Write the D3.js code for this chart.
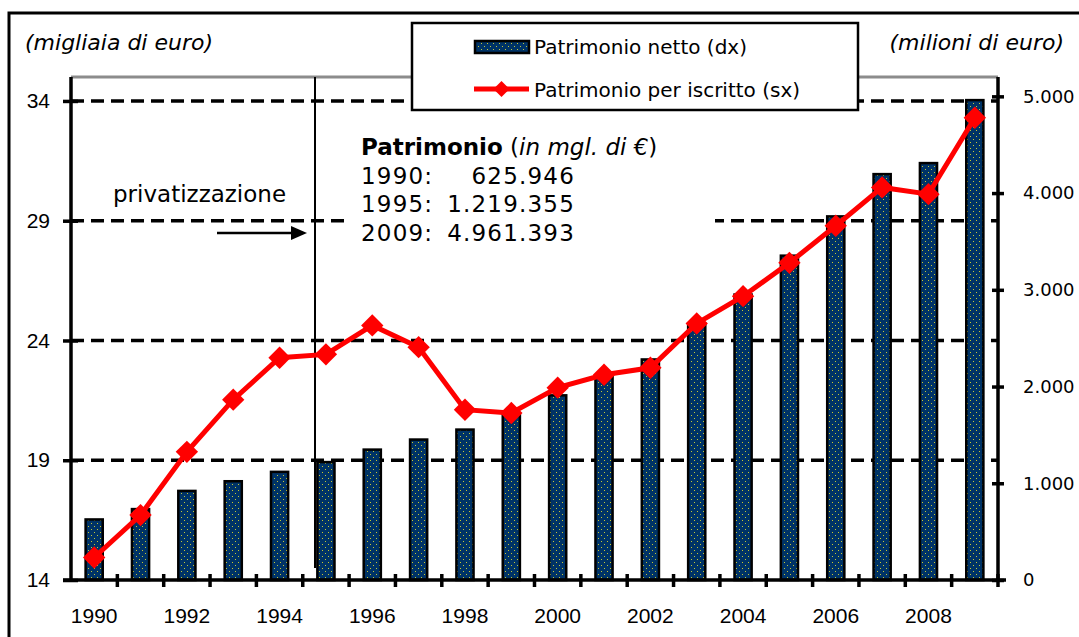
<!DOCTYPE html>
<meta charset="utf-8">
<style>
body {
    margin: 0;
    background: white;
}

.axis path,
.axis line {
    fill: none;
    stroke: #000;
    stroke-width: 3.5px;
}

.axis text {
    fill: #000;
}

.y.left text,
.x.axis text {
    font: 21px "Liberation Sans", Arial, sans-serif;
}

.y.right text {
    font: 18px "DejaVu Sans", Verdana, sans-serif;
}

.grid line {
    stroke: #000;
    stroke-width: 3.5px;
    stroke-dasharray: 13, 7;
}

.bar {
    fill: url(#dots);
    stroke: #000;
    stroke-width: 2.5px;
}

.note {
    font-family: "DejaVu Sans", Verdana, sans-serif;
    fill: #000;
}
</style>

<body>
    <script src="https://d3js.org/d3.v7.min.js"></script>
    <script>
    // chart data
    var years = [1990, 1991, 1992, 1993, 1994, 1995, 1996, 1997, 1998, 1999,
        2000, 2001, 2002, 2003, 2004, 2005, 2006, 2007, 2008, 2009];

    // net assets, millions of euro (right axis)
    var patrimonioNetto = [626, 733, 921, 1021, 1118, 1219, 1348, 1452, 1555, 1715,
        1909, 2097, 2280, 2652, 2951, 3353, 3759, 4196, 4310, 4961];

    // assets per member, thousands of euro (left axis)
    var perIscritto = [14.94, 16.71, 19.35, 21.53, 23.28, 23.42, 24.63, 23.72, 21.11, 20.97,
        22.03, 22.57, 22.86, 24.71, 25.85, 27.24, 28.79, 30.39, 30.11, 33.30];

    var leftTicks = [14, 19, 24, 29, 34];
    var rightTicks = [0, 1000, 2000, 3000, 4000, 5000];
    var xLabelYears = [1990, 1992, 1994, 1996, 1998, 2000, 2002, 2004, 2006, 2008];

    var noteLines = [
        ["1990:", "625.946"],
        ["1995:", "1.219.355"],
        ["2009:", "4.961.393"]
    ];

    // plot area edges
    var pLeft = 71, pRight = 998, pTop = 77, pBottom = 580;

    var it = d3.formatLocale({ decimal: ",", thousands: ".", grouping: [3], currency: ["€", ""] });

    var x = d3.scaleBand()
        .domain(years)
        .range([pLeft, pRight]);

    var yL = d3.scaleLinear()
        .domain([14, 35])
        .range([pBottom, pTop]);

    var yR = d3.scaleLinear()
        .domain([0, 5200])
        .range([pBottom, pTop]);

    var barW = x.bandwidth() * 0.37;

    var svg = d3.select("body")
        .append("svg")
        .attr("width", 1079)
        .attr("height", 637);

    // dotted navy fill for the bars
    var pat = svg.append("defs")
        .append("pattern")
        .attr("id", "dots")
        .attr("patternUnits", "userSpaceOnUse")
        .attr("width", 6)
        .attr("height", 6);
    pat.append("rect").attr("width", 6).attr("height", 6).attr("fill", "#003366");
    pat.append("rect").attr("x", 1).attr("y", 1).attr("width", 1).attr("height", 1).attr("fill", "#c8c832");
    pat.append("rect").attr("x", 4).attr("y", 4).attr("width", 1).attr("height", 1).attr("fill", "#c8c832");

    // outer frame (runs off the right and bottom edges)
    svg.append("path")
        .attr("d", "M9,700V13H1100")
        .attr("fill", "none")
        .attr("stroke", "#000")
        .attr("stroke-width", 3);

    // top edge of the plot area
    svg.append("line")
        .attr("x1", pLeft).attr("x2", pRight)
        .attr("y1", pTop).attr("y2", pTop)
        .attr("stroke", "#8c8c8c")
        .attr("stroke-width", 3);

    // dashed gridlines
    svg.append("g")
        .attr("class", "grid")
        .selectAll("line")
        .data(leftTicks.slice(1))
        .enter()
        .append("line")
        .attr("x1", pLeft)
        .attr("x2", pRight)
        .attr("y1", function(d) { return yL(d); })
        .attr("y2", function(d) { return yL(d); });

    // privatisation marker line
    svg.append("line")
        .attr("x1", 315).attr("x2", 315)
        .attr("y1", pTop).attr("y2", 568)
        .attr("stroke", "#000")
        .attr("stroke-width", 2);

    // bars
    svg.selectAll(".bar")
        .data(years)
        .enter()
        .append("rect")
        .attr("class", "bar")
        .attr("x", function(d) { return x(d) + (x.bandwidth() - barW) / 2; })
        .attr("width", barW)
        .attr("y", function(d, i) { return yR(patrimonioNetto[i]); })
        .attr("height", function(d, i) { return pBottom - yR(patrimonioNetto[i]); });

    // red line with diamond markers
    var line = d3.line()
        .x(function(d, i) { return x(years[i]) + x.bandwidth() / 2; })
        .y(function(d) { return yL(d); });

    svg.append("path")
        .datum(perIscritto)
        .attr("d", line)
        .attr("fill", "none")
        .attr("stroke", "#ff0000")
        .attr("stroke-width", 5);

    var diamond = d3.symbol().type(d3.symbolSquare).size(250);

    svg.selectAll(".mark")
        .data(perIscritto)
        .enter()
        .append("path")
        .attr("class", "mark")
        .attr("d", diamond)
        .attr("fill", "#ff0000")
        .attr("transform", function(d, i) {
            return "translate(" + (x(years[i]) + x.bandwidth() / 2) + "," + yL(d) + ") rotate(45)";
        });

    // left axis
    var gl = svg.append("g")
        .attr("class", "y axis left")
        .attr("transform", "translate(" + pLeft + ",0)")
        .call(d3.axisLeft(yL).tickValues(leftTicks).tickSizeInner(8).tickSizeOuter(0).tickPadding(13));
    gl.select(".domain").attr("d", "M0," + (pBottom + 2) + "V" + pTop);
    gl.selectAll(".tick line").attr("x1", 7);

    // right axis
    var gr = svg.append("g")
        .attr("class", "y axis right")
        .attr("transform", "translate(" + pRight + ",0)")
        .call(d3.axisRight(yR).tickValues(rightTicks).tickSizeInner(6).tickSizeOuter(0).tickPadding(19)
            .tickFormat(it.format(",")));
    gr.select(".domain").attr("d", "M0," + (pBottom + 2) + "V" + pTop);
    gr.selectAll(".tick line").attr("x1", -6);

    // bottom axis: labels under every other year, ticks between years
    var gx = svg.append("g")
        .attr("class", "x axis")
        .attr("transform", "translate(0," + pBottom + ")")
        .call(d3.axisBottom(x).tickValues(xLabelYears).tickSize(0).tickPadding(28));
    gx.select(".domain").attr("d", "M" + (pLeft - 8) + ",0H" + (pRight + 8));

    gx.selectAll(".sep")
        .data(years.slice(1).concat([null]))
        .enter()
        .append("line")
        .attr("class", "sep")
        .attr("x1", function(d) { return d === null ? pRight : x(d); })
        .attr("x2", function(d) { return d === null ? pRight : x(d); })
        .attr("y1", -6)
        .attr("y2", 7);

    // unit captions
    svg.append("text")
        .attr("class", "note")
        .attr("x", 25).attr("y", 50)
        .attr("font-size", 22)
        .attr("font-style", "italic")
        .text("(migliaia di euro)");

    svg.append("text")
        .attr("class", "note")
        .attr("x", 1064).attr("y", 50)
        .attr("text-anchor", "end")
        .attr("font-size", 22)
        .attr("font-style", "italic")
        .text("(milioni di euro)");

    // privatisation label and arrow
    svg.append("text")
        .attr("class", "note")
        .attr("x", 113).attr("y", 202)
        .attr("font-size", 23)
        .text("privatizzazione");

    svg.append("line")
        .attr("x1", 217).attr("x2", 294)
        .attr("y1", 233).attr("y2", 233)
        .attr("stroke", "#000")
        .attr("stroke-width", 2.5);
    svg.append("path")
        .attr("d", "M307,233L291,226L291,240Z")
        .attr("fill", "#000");

    // annotation box
    svg.append("rect")
        .attr("x", 350).attr("y", 125)
        .attr("width", 365).attr("height", 125)
        .attr("fill", "white");

    var head = svg.append("text")
        .attr("class", "note")
        .attr("x", 361).attr("y", 155)
        .attr("font-size", 23);
    head.append("tspan").attr("font-weight", "bold").text("Patrimonio");
    head.append("tspan").text(" (");
    head.append("tspan").attr("font-style", "italic").text("in mgl. di €");
    head.append("tspan").text(")");

    noteLines.forEach(function(r, i) {
        svg.append("text")
            .attr("class", "note")
            .attr("x", 361).attr("y", 184 + i * 28.3)
            .attr("font-size", 23)
            .attr("letter-spacing", 1.2)
            .text(r[0]);
        svg.append("text")
            .attr("class", "note")
            .attr("x", 575).attr("y", 184 + i * 28.3)
            .attr("font-size", 23)
            .attr("letter-spacing", 1.2)
            .attr("text-anchor", "end")
            .text(r[1]);
    });

    // legend
    var lg = svg.append("g");
    lg.append("rect")
        .attr("x", 412).attr("y", 23)
        .attr("width", 446).attr("height", 87)
        .attr("fill", "white")
        .attr("stroke", "#000")
        .attr("stroke-width", 2.5);
    lg.append("rect")
        .attr("class", "bar")
        .attr("x", 475).attr("y", 41)
        .attr("width", 54).attr("height", 12);
    lg.append("line")
        .attr("x1", 474).attr("x2", 529)
        .attr("y1", 89).attr("y2", 89)
        .attr("stroke", "#ff0000")
        .attr("stroke-width", 5);
    lg.append("path")
        .attr("d", d3.symbol().type(d3.symbolSquare).size(130))
        .attr("fill", "#ff0000")
        .attr("transform", "translate(501.5,89) rotate(45)");
    lg.append("text")
        .attr("class", "note")
        .attr("x", 534).attr("y", 54)
        .attr("font-size", 20)
        .text("Patrimonio netto (dx)");
    lg.append("text")
        .attr("class", "note")
        .attr("x", 534).attr("y", 97)
        .attr("font-size", 20)
        .text("Patrimonio per iscritto (sx)");
    </script>
</body>
